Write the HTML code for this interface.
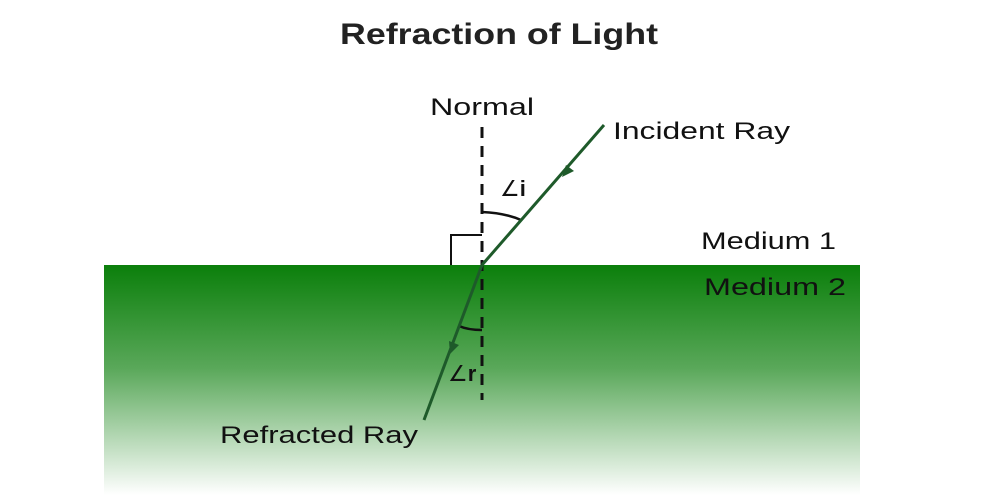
<!DOCTYPE html>
<html><head><style>
body{margin:0;background:#fff;}
svg{display:block;font-family:"Liberation Sans",sans-serif;}
</style></head><body>
<svg width="1000" height="500" viewBox="0 0 1000 500">
<defs><linearGradient id="g" x1="0" y1="0" x2="0" y2="1">
<stop offset="0" stop-color="#0b7f0b"/><stop offset="0.45" stop-color="#5aa85a"/><stop offset="1" stop-color="#ffffff"/></linearGradient></defs>
<rect x="104" y="265" width="756" height="230" fill="url(#g)"/>
<text x="340" y="44" font-size="30" font-weight="bold" fill="#222" textLength="318" lengthAdjust="spacingAndGlyphs">Refraction of Light</text>
<text x="430" y="115" font-size="24" fill="#111" textLength="104" lengthAdjust="spacingAndGlyphs">Normal</text>
<text x="613" y="139" font-size="24" fill="#111" textLength="177" lengthAdjust="spacingAndGlyphs">Incident Ray</text>
<text x="701" y="249" font-size="24" fill="#111" textLength="135" lengthAdjust="spacingAndGlyphs">Medium 1</text>
<text x="704" y="295" font-size="24" fill="#111" textLength="142" lengthAdjust="spacingAndGlyphs">Medium 2</text>
<text x="220" y="443" font-size="24" fill="#111" textLength="198" lengthAdjust="spacingAndGlyphs">Refracted Ray</text>
<text x="500" y="196" font-size="22" fill="#111">∠<tspan font-weight="bold">i</tspan></text>
<text x="448" y="381" font-size="22" fill="#111">∠<tspan font-weight="bold">r</tspan></text>
<line x1="482" y1="127" x2="482" y2="400" stroke="#111" stroke-width="3" stroke-dasharray="11,8"/>
<polyline points="451,265 451,235 482,235" fill="none" stroke="#111" stroke-width="2"/>
<path d="M482,212 Q505,213 521,220" fill="none" stroke="#111" stroke-width="2.5"/>
<path d="M482,330 Q468,330 459,326" fill="none" stroke="#111" stroke-width="2.5"/>
<line x1="604" y1="125" x2="482" y2="265" stroke="#1e5a2a" stroke-width="3"/>
<line x1="482" y1="265" x2="424" y2="420" stroke="#1e5a2a" stroke-width="3"/>
<polygon points="562,177 574,171 566,165" fill="#1e5a2a"/>
<polygon points="450,354 459,345 449,341" fill="#1e5a2a"/>
</svg>
</body></html>
